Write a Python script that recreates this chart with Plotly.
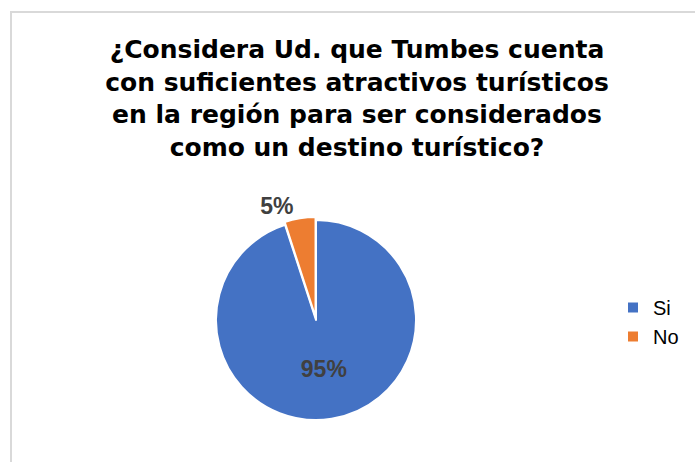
import plotly.graph_objects as go

title_lines = [
    "¿Considera Ud. que Tumbes cuenta",
    "con suficientes atractivos turísticos",
    "en la región para ser considerados",
    "como un destino turístico?",
]
labels = ["Si", "No"]
values = [95, 5]
colors = ["#4472C4", "#ED7D31"]
pulls = [0, 0.03]
text_positions = ["inside", "outside"]

W, H = 695, 462

fig = go.Figure(
    go.Pie(
        labels=labels,
        values=values,
        sort=False,
        direction="clockwise",
        rotation=0,
        pull=pulls,
        marker=dict(colors=colors, line=dict(color="white", width=2)),
        texttemplate="%{percent:.0%}",
        textposition=text_positions,
        insidetextorientation="horizontal",
        textfont=dict(family="Liberation Sans", size=23, color="#404040", weight="bold"),
        domain=dict(x=[213 / W, 419 / W], y=[1 - 423 / H, 1 - 217 / H]),
        hoverinfo="label+percent",
    )
)

fig.update_layout(
    width=W,
    height=H,
    margin=dict(l=0, r=0, t=0, b=0),
    paper_bgcolor="white",
    plot_bgcolor="white",
    title=dict(
        text="<br>".join(title_lines),
        x=357 / W,
        xanchor="center",
        y=1 - 58 / H,
        yanchor="top",
        font=dict(family="DejaVu Sans", size=25, color="#000000", weight="bold"),
    ),
    showlegend=True,
    legend=dict(
        x=613 / W,
        xanchor="left",
        y=1 - 322 / H,
        yanchor="middle",
        itemwidth=30,
        font=dict(family="Liberation Sans", size=20, color="#000000"),
        bgcolor="rgba(0,0,0,0)",
    ),
    shapes=[
        dict(
            type="rect",
            xref="paper",
            yref="paper",
            x0=11 / W,
            x1=1.05,
            y0=-0.05,
            y1=1 - 12 / H,
            line=dict(color="#D9D9D9", width=2),
            fillcolor="rgba(0,0,0,0)",
            layer="below",
        )
    ],
)

fig.write_html(
    "out.html",
    config={"displayModeBar": False},
    post_script="document.body.style.margin='0';document.body.style.padding='0';",
)
